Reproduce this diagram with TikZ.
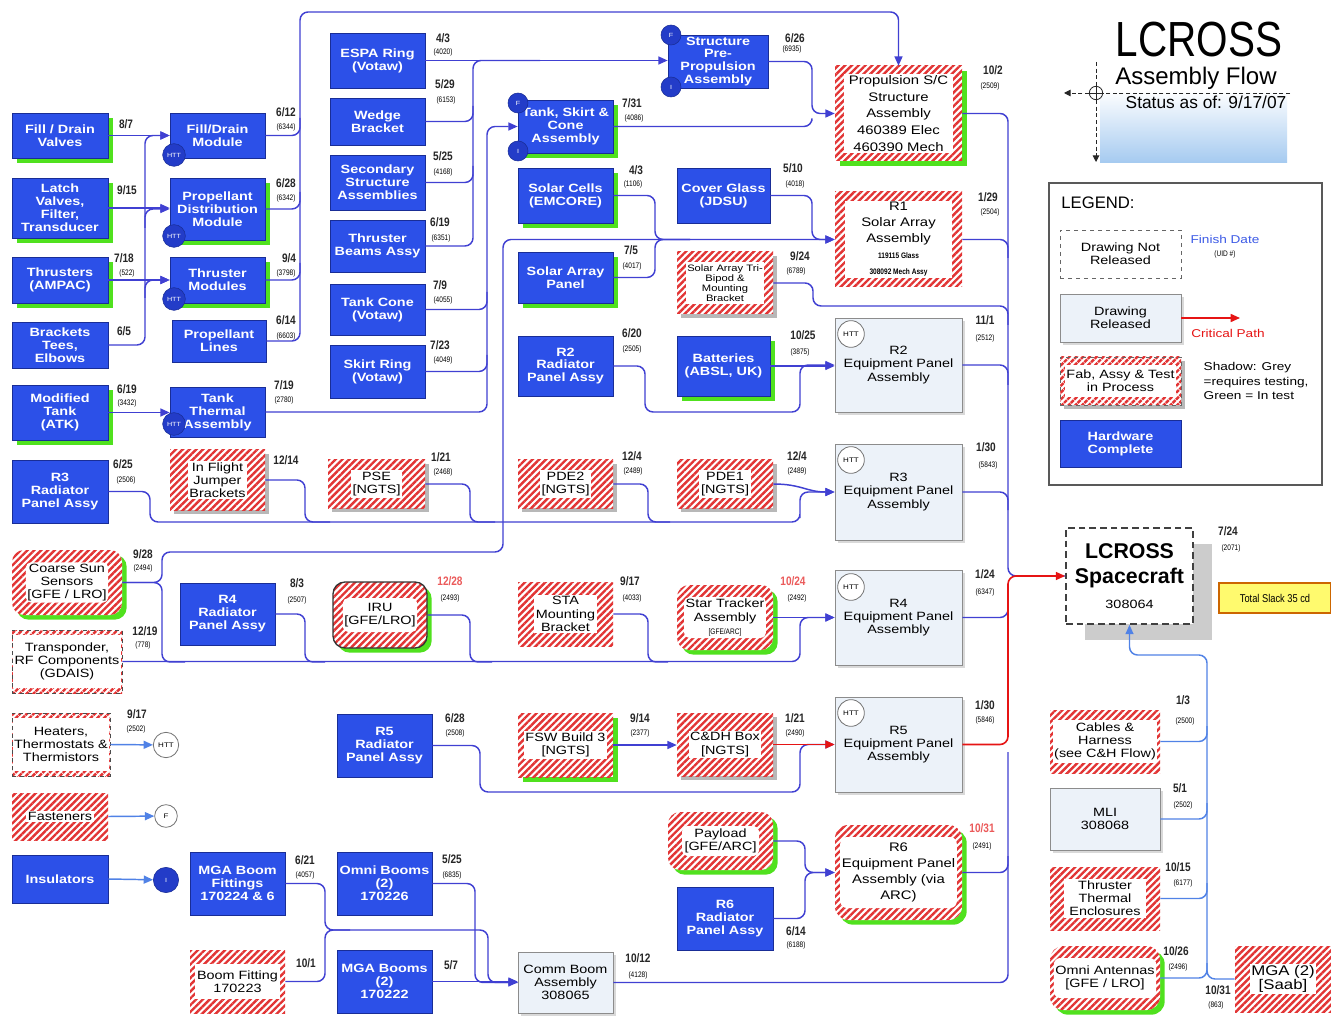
\documentclass[tikz,border=0pt]{standalone}
\usepackage{fontspec}
\setmainfont{Liberation Sans}
\newfontfamily\sx[FakeStretch=1.2]{Liberation Sans}
\newfontfamily\sxn[FakeStretch=0.82]{Liberation Sans}
\usetikzlibrary{arrows.meta,patterns.meta,shadows}
\definecolor{bfill}{RGB}{44,80,232}
\definecolor{bdraw}{RGB}{25,45,150}
\definecolor{lc}{RGB}{64,64,210}
\definecolor{lcl}{RGB}{80,130,230}
\definecolor{hred}{RGB}{226,52,52}
\definecolor{gshc}{RGB}{80,225,30}
\definecolor{lfill}{RGB}{236,242,249}
\definecolor{dred}{RGB}{235,90,90}
\definecolor{crit}{RGB}{230,20,20}
\definecolor{cdark}{RGB}{35,60,200}
\definecolor{tb}{RGB}{165,202,240}
\definecolor{yfill}{RGB}{255,250,110}
\definecolor{lgb}{RGB}{60,90,230}
\newcommand\ffb{\sx\bfseries\fontsize{9}{9.7}\selectfont}
\newcommand\ffr{\sx\fontsize{9}{9.9}\selectfont}
\newcommand\ffd{\sxn\bfseries\fontsize{9.2}{10}\selectfont}
\newcommand\ffu{\sxn\fontsize{6}{6.5}\selectfont}
\newcommand{\nbx}[8][]{%
 \pgfmathsetmacro\nbw{(#6-#4)*0.75}%
 \pgfmathsetmacro\nbh{(#7-#5)*0.75}%
 \node[#2,#1,minimum width=\nbw pt,minimum height=\nbh pt] (#3) at ({(#4+#6)/2},{(#5+#7)/2}) {#8};}
\newcommand{\hbx}[9]{%
 \pgfmathsetmacro\nbw{(#5-#3)*0.75}%
 \pgfmathsetmacro\nbh{(#6-#4)*0.75}%
 \pgfmathsetmacro\niw{max(#5-#3-2*#7,2)*0.75}%
 \pgfmathsetmacro\nih{max(#6-#4-2*#7,2)*0.75}%
 \node[#1,hatch,minimum width=\nbw pt,minimum height=\nbh pt] (#2) at ({(#3+#5)/2},{(#4+#6)/2}) {};%
 \node[hin,minimum width=\niw pt,minimum height=\nih pt,#9] (#2t) at (#2.center) {#8};}
\tikzset{
 blk/.style={fill=bfill,draw=bdraw,line width=0.5pt,text=white,font=\ffb,align=center,inner sep=1pt},
 lbox/.style={fill=lfill,draw=black!45,line width=0.6pt,font=\ffr,align=center,inner sep=1pt},
 hatch/.style={preaction={fill=white},pattern={Lines[angle=45,distance=3.6pt,line width=1.8pt]},pattern color=hred,inner sep=0pt},
 hin/.style={fill=white,font=\ffr,align=center,inner sep=1.2pt},
 gsh/.style={drop shadow={shadow xshift=3.5pt,shadow yshift=-3.5pt,fill=gshc,opacity=1}},
 ysh/.style={drop shadow={shadow xshift=3pt,shadow yshift=-3pt,fill=black!28,opacity=1}},
 lsh/.style={drop shadow={shadow xshift=2.5pt,shadow yshift=-2.5pt,fill=black!15,opacity=1}},
 cn/.style={draw=lc,line width=1.1pt,rounded corners=6pt},
 cnr/.style={draw=crit,line width=1.2pt,rounded corners=6pt},
 cnl/.style={draw=lcl,line width=1.1pt,rounded corners=6pt},
 ar/.style={-{Triangle[length=7pt,width=6pt]}},
 dt/.style={font=\ffd,inner sep=0pt,text=black!85},
 ud/.style={font=\ffu,inner sep=0pt},
 hcb/.style={circle,fill=cdark,draw=bdraw,text=white,font=\sx\fontsize{4.5}{5}\selectfont,inner sep=0pt,minimum size=17pt},
 hcw/.style={circle,fill=white,draw=black!55,line width=0.6pt,font=\sx\fontsize{5}{5}\selectfont,inner sep=0pt,minimum size=20pt},
 xd/.style={draw=black!85,densely dashed,line width=0.7pt},
}
\begin{document}
\begin{tikzpicture}[x=0.75pt,y=-0.75pt]
\useasboundingbox[fill=white] (0,0) rectangle (1331,1019);
% ---------- title ----------
\shade[top color=white,bottom color=tb] (1100,90) rectangle (1287,163);
\node[font=\sxn\fontsize{37}{37}\selectfont] (t1) at (1199,40) {LCROSS};
\node[font=\fontsize{18}{18}\selectfont] (t2) at (1196,78) {Assembly Flow};
\node[font=\fontsize{13}{13}\selectfont] (t3) at (1206,102) {Status as of: 9/17/07};
\node[circle,draw=black!85,minimum size=10pt,inner sep=0pt,line width=0.6pt] (xh) at (1096,93) {};
\draw[black!85,line width=0.5pt] (xh.north) -- (xh.south) (xh.east) -- (xh.west);
\coordinate (xv1) at (1096,62); \coordinate (xv2) at (1096,162);
\coordinate (xh1) at (1290,93); \coordinate (xh2) at (1064,93);
\draw[xd] (xv1) -- (xh.north);
\draw[xd,-{Triangle[length=5pt,width=5pt]}] (xh.south) -- (xv2);
\draw[xd] (xh1) -- (xh.east);
\draw[xd,-{Triangle[length=5pt,width=5pt]}] (xh.west) -- (xh2);
% ---------- legend ----------
\nbx{draw=black!65,line width=1.6pt}{leg}{1049}{183}{1322}{485}{}
\node[font=\fontsize{12.5}{13}\selectfont] (lgt) at (1098,203) {LEGEND:};
\nbx{lbox,fill=white,dashed,draw=black!60}{lg1}{1060}{230}{1181}{278}{Drawing Not\\Released}
\nbx[lsh]{lbox}{lg2}{1060}{294}{1181}{342}{Drawing\\Released}
\hbx{ysh,draw=black!60,dashed}{lg3}{1060}{357}{1181}{405}{8}{Fab, Assy \& Test\\in Process}{}
\nbx{blk}{lg4}{1060}{420}{1181}{467}{Hardware\\Complete}
\node[font=\sx\fontsize{8.5}{9}\selectfont,text=lgb] (fdl) at (1225,239) {Finish Date};
\node[ud] (udl) at (1225,254) {(UID \#)};
\node[font=\sx\fontsize{8.5}{9}\selectfont,text=crit] (cpl) at (1228,333) {Critical Path};
\node[font=\sx\fontsize{8.5}{10.8}\selectfont,align=left,anchor=west] (shl) at (1199,381) {Shadow: Grey\\=requires testing,\\Green = In test};
\coordinate (cpe) at (1240,318);
\draw[cnr,ar] (lg2.east) -- (cpe);
% ---------- blue boxes ----------
\nbx[gsh]{blk}{fdv}{12}{113}{108}{158}{Fill / Drain\\Valves}
\nbx[gsh]{blk}{lvf}{12}{178}{108}{238}{Latch\\Valves,\\Filter,\\Transducer}
\nbx[gsh]{blk}{thr}{12}{257}{108}{303}{Thrusters\\(AMPAC)}
\nbx{blk}{brk}{12}{322}{108}{368}{Brackets\\Tees,\\Elbows}
\nbx[gsh]{blk}{mtk}{12}{385}{108}{440}{Modified\\Tank\\(ATK)}
\nbx{blk}{r3r}{12}{460}{108}{523}{R3\\Radiator\\Panel Assy}
\nbx{blk}{ins}{12}{855}{108}{903}{Insulators}
\nbx{blk}{fdm}{170}{113}{265}{158}{Fill/Drain\\Module}
\nbx[gsh]{blk}{pdm}{170}{178}{265}{240}{Propellant\\Distribution\\Module}
\nbx[gsh]{blk}{thm}{170}{257}{265}{303}{Thruster\\Modules}
\nbx{blk}{pl}{172}{320}{266}{362}{Propellant\\Lines}
\nbx{blk}{tta}{170}{387}{265}{437}{Tank\\Thermal\\Assembly}
\nbx{blk}{r4r}{180}{583}{275}{645}{R4\\Radiator\\Panel Assy}
\nbx{blk}{mbf}{190}{852}{285}{915}{MGA Boom\\Fittings\\170224 \& 6}
\nbx{blk}{espa}{330}{33}{425}{88}{ESPA Ring\\(Votaw)}
\nbx{blk}{wb}{330}{98}{425}{145}{Wedge\\Bracket}
\nbx{blk}{ssa}{330}{155}{425}{210}{Secondary\\Structure\\Assemblies}
\nbx{blk}{tba}{330}{220}{425}{272}{Thruster\\Beams Assy}
\nbx{blk}{tc}{330}{284}{425}{335}{Tank Cone\\(Votaw)}
\nbx{blk}{sr}{330}{345}{425}{398}{Skirt Ring\\(Votaw)}
\nbx{blk}{r5r}{337}{714}{432}{777}{R5\\Radiator\\Panel Assy}
\nbx{blk}{omb}{337}{852}{432}{915}{Omni Booms\\(2)\\170226}
\nbx{blk}{mgb}{337}{950}{432}{1013}{MGA Booms\\(2)\\170222}
\nbx{blk}{sppa}{668}{35}{768}{88}{Structure\\Pre-\\Propulsion\\Assembly}
\nbx[gsh]{blk}{tsc}{518}{100}{613}{153}{Tank, Skirt \&\\Cone\\Assembly}
\nbx[gsh]{blk}{sc}{518}{168}{613}{223}{Solar Cells\\(EMCORE)}
\nbx[gsh]{blk}{sap}{518}{252}{613}{303}{Solar Array\\Panel}
\nbx{blk}{r2r}{518}{336}{613}{396}{R2\\Radiator\\Panel Assy}
\nbx{blk}{cg}{677}{168}{770}{223}{Cover Glass\\(JDSU)}
\nbx[gsh]{blk}{bat}{677}{336}{770}{396}{Batteries\\(ABSL, UK)}
\nbx{blk}{r6r}{677}{887}{773}{950}{R6\\Radiator\\Panel Assy}
% ---------- hatched boxes ----------
\hbx{gsh,rounded corners=9pt}{css}{12}{550}{122}{615}{14}{Coarse Sun\\Sensors\\{[GFE / LRO]}}{rounded corners=4pt}
\hbx{draw=black!70,dashed}{trp}{12}{630}{122}{693}{5}{Transponder,\\RF Components\\(GDAIS)}{}
\hbx{draw=black!70,dashed}{heat}{12}{713}{110}{776}{5}{Heaters,\\Thermostats \&\\Thermistors}{}
\hbx{}{fas}{12}{793}{108}{840}{40}{Fasteners}{}
\hbx{ysh}{ifj}{170}{450}{265}{510}{20}{In Flight\\Jumper\\Brackets}{}
\hbx{}{bft}{190}{950}{285}{1013}{14}{Boom Fitting\\170223}{}
\hbx{ysh}{pse}{328}{460}{425}{508}{40}{PSE\\{[NGTS]}}{}
\hbx{gsh,rounded corners=9pt,draw=black!80,line width=1pt}{iru}{333}{582}{427}{648}{16}{IRU\\{[GFE/LRO]}}{rounded corners=4pt}
\hbx{ysh}{pde2}{518}{460}{613}{508}{40}{PDE2\\{[NGTS]}}{}
\hbx{}{sta}{518}{582}{613}{646}{25}{STA\\Mounting\\Bracket}{}
\hbx{gsh}{fsw}{518}{713}{613}{777}{30}{FSW Build 3\\{[NGTS]}}{}
\hbx{ysh}{tbp}{677}{252}{773}{314}{10}{Solar Array Tri-\\Bipod \&\\Mounting\\Bracket}{font=\sx\fontsize{7}{7.6}\selectfont}
\hbx{ysh}{pde1}{677}{460}{773}{508}{40}{PDE1\\{[NGTS]}}{}
\hbx{gsh,rounded corners=9pt}{str}{677}{585}{773}{650}{12}{Star Tracker\\Assembly\\{\ffu[GFE/ARC]}}{rounded corners=4pt}
\hbx{ysh}{cdh}{677}{713}{773}{776}{30}{C\&DH Box\\{[NGTS]}}{}
\hbx{gsh,rounded corners=9pt}{pay}{668}{812}{773}{870}{14}{Payload\\{[GFE/ARC]}}{rounded corners=4pt}
\hbx{gsh}{psc}{835}{66}{962}{161}{9}{Propulsion S/C\\Structure\\Assembly\\460389 Elec\\460390 Mech}{font=\sx\fontsize{9.3}{12.6}\selectfont}
\hbx{}{r1}{835}{192}{962}{287}{10}{R1\\Solar Array\\Assembly\\{\ffu\bfseries 119115 Glass}\\{\ffu\bfseries 308092 Mech Assy}}{font=\sx\fontsize{9.3}{12}\selectfont}
\hbx{gsh,rounded corners=10pt}{r6e}{835}{825}{962}{920}{12}{R6\\Equipment Panel\\Assembly (via\\ARC)}{rounded corners=5pt,font=\sx\fontsize{9.3}{12}\selectfont}
\hbx{}{cab}{1050}{710}{1160}{773}{10}{Cables \&\\Harness\\(see C\&H Flow)}{}
\hbx{}{tte}{1050}{867}{1160}{930}{14}{Thruster\\Thermal\\Enclosures}{}
\hbx{gsh,rounded corners=10pt}{oma}{1050}{946}{1160}{1010}{12}{Omni Antennas\\{[GFE / LRO]}}{rounded corners=5pt}
\hbx{}{mga}{1235}{946}{1331}{1012}{18}{MGA (2)\\{[Saab]}}{font=\sx\fontsize{10.5}{11}\selectfont}
% ---------- light boxes ----------
\nbx[lsh]{lbox}{r2e}{835}{318}{962}{412}{R2\\Equipment Panel\\Assembly}
\nbx[lsh]{lbox}{r3e}{835}{444}{962}{540}{R3\\Equipment Panel\\Assembly}
\nbx[lsh]{lbox}{r4e}{835}{570}{962}{665}{R4\\Equipment Panel\\Assembly}
\nbx[lsh]{lbox}{r5e}{835}{697}{962}{792}{R5\\Equipment Panel\\Assembly}
\nbx[lsh]{lbox}{cba}{518}{952}{613}{1013}{Comm Boom\\Assembly\\308065}
\nbx[lsh]{lbox}{mli}{1050}{788}{1160}{850}{MLI\\308068}
\nbx[drop shadow={shadow xshift=14pt,shadow yshift=-12pt,fill=black!20,opacity=1}]{lbox,fill=white,draw=black!75,line width=1.3pt,dash pattern=on 5pt off 3pt,font=\bfseries\fontsize{16}{18.5}\selectfont}{lcs}{1066}{528}{1193}{624}{LCROSS\\Spacecraft\\{\mdseries\ffr 308064}}
\nbx{fill=yfill,draw=orange!80!black,line width=0.8pt,font=\sxn\fontsize{8.5}{9}\selectfont}{tsl}{1219}{583}{1331}{613}{Total Slack 35 cd}
% ---------- circles ----------
\node[hcb] (h1) at (174,155) {HTT};
\node[hcb] (h2) at (174,236) {HTT};
\node[hcb] (h3) at (174,299) {HTT};
\node[hcb] (h4) at (174,424) {HTT};
\node[hcb,minimum size=15pt] (f1) at (671,35) {F};
\node[hcb,minimum size=15pt] (i1) at (671,87) {I};
\node[hcb,minimum size=15pt] (f2) at (518,103) {F};
\node[hcb,minimum size=15pt] (i2) at (518,151) {I};
\node[hcw] (h5) at (851,334) {HTT};
\node[hcw] (h6) at (851,460) {HTT};
\node[hcw] (h7) at (851,587) {HTT};
\node[hcw] (h8) at (851,713) {HTT};
\node[hcw,minimum size=19pt] (hc) at (166,745) {HTT};
\node[hcw,minimum size=17pt] (fc) at (166,816) {F};
\node[hcb,minimum size=19pt] (ic) at (166,880) {I};
% ---------- connectors ----------
\draw[cn,ar] (fdv) -- (fdm);
\draw[cn,ar] (lvf.east) -- (lvf.east -| pdm.west);
\draw[cn,ar] (thr.east) -- (thr.east -| thm.west);
\draw[cn,ar] (brk.east) -| (145,160) |- (fdm.west);
\coordinate (jb1) at (145,228); \coordinate (jb2) at (145,298);
\draw[cn,ar] (jb1) |- (pdm.west);
\draw[cn,ar] (jb2) |- (thm.west);
\draw[cn,ar] (mtk.east) -- (mtk.east -| tta.west);
\draw[cn,ar] (pl.east) -| (300,12) -| (psc.north);
\draw[cn] (fdm.east) -| (300,118);
\draw[cn] (pdm.east) -| (300,192);
\draw[cn] (thm.east) -| (300,263);
\draw[cn,ar] (espa.east) -- (espa.east -| sppa.west);
\coordinate (je1) at (540,60.5);
\draw[cn] (tba.east) -| (473,100) |- (je1);
\draw[cn] (wb.east) -| (473,106);
\draw[cn] (ssa.east) -| (473,166);
\draw[cn,ar] (tta.east) -| (487,200) |- (tsc.west);
\draw[cn] (tc.east) -| (487,292);
\draw[cn] (sr.east) -| (487,355);
\draw[cn,ar] (sppa.east) -| (812,95) |- (psc.west);
\draw[cn] (tsc.east) -| (812,121);
\draw[cn,ar] (css.east) -| (162,552) -| (503,262) |- (r1.west);
\coordinate (jc1) at (185,662);
\draw[cn] (css.east) -| (162,662) -- (jc1);
\coordinate (jr1) at (690,239.5);
\draw[cn] (sc.east) -| (655,222) |- (jr1);
\draw[cn] (sap.east) -| (655,257) |- (jr1);
\draw[cn,ar] (cg.east) -| (812,222) |- (r1.west);
\draw[cn] (psc.east) -| (1008,545) |- (lcs.west);
\draw[cn] (r1.east) -| (1008,258);
\draw[cn] (tbp.east) -| (813,306) -| (1008,325);
\draw[cn] (r2e.east) -| (1008,385);
\draw[cn] (r3e.east) -| (1008,510);
\draw[cn] (r4e.east) -| (1008,598);
\draw[cn] (cba.east) -| (1008,752);
\draw[cn] (r6e.east) -| (1008,856);
\draw[cnr,ar] (r5e.east) -| (1008,600) |- (lcs.west);
\draw[cn,ar] (r2r.east) -| (645,412) -| (800,385) |- (r2e.west);
\draw[cn,ar] (bat.east) -- (bat.east -| r2e.west);
\draw[cn,ar] (r3r.east) -| (150,522) -| (800,510) |- (r3e.west);
\coordinate (jr3a) at (330,522); \coordinate (jr3b) at (495,522); \coordinate (jr3c) at (670,522);
\draw[cn] (ifj.east) -| (305,522) -- (jr3a);
\draw[cn] (pse.east) -| (470,522) -- (jr3b);
\draw[cn] (pde2.east) -| (648,522) -- (jr3c);
\draw[cn,ar] (pde1.east) .. controls +(28,0) and +(-28,0) .. (r3e.west);
\draw[cn,ar] (trp.east) -| (800,634) |- (r4e.west);
\coordinate (jr4a) at (325,662); \coordinate (jr4b) at (492,662); \coordinate (jr4c) at (668,662);
\draw[cn] (r4r.east) -| (305,662) -- (jr4a);
\draw[cn] (iru.east) -| (470,662) -- (jr4b);
\draw[cn] (sta.east) -| (648,662) -- (jr4c);
\draw[cn,ar] (str.east) -- (str.east -| r4e.west);
\draw[cn,ar] (r5r.east) -| (480,792) -| (800,762) |- (r5e.west);
\draw[cn,ar] (fsw.east) -- (fsw.east -| cdh.west);
\draw[cnr,ar] (cdh.east) -- (cdh.east -| r5e.west);
\draw[cn,ar] (pay.east) -| (805,857) |- (r6e.west);
\draw[cn,ar] (r6r.east) -| (805,888) |- (r6e.west);
\draw[cn,ar] (bft.east) -| (325,930) -| (488,966) |- (cba.west);
\coordinate (jb3) at (350,930);
\draw[cn] (mbf.east) -| (325,930) -- (jb3);
\draw[cn] (omb.east) -| (475,966) |- (cba.west);
\draw[cn,ar] (mgb.east) -- (mgb.east -| cba.west);
\draw[cnl,ar] (mga.west) -| (1207,655) -| (lcs.south);
\draw[cnl] (cab.east) -| (1207,726);
\draw[cnl] (mli.east) -| (1207,803);
\draw[cnl] (tte.east) -| (1207,883);
\draw[cnl] (oma.east) -| (1207,963);
\draw[cnl,ar] (heat.east) -- (hc);
\draw[cnl,ar] (fas.east) -- (fc);
\draw[cnl,ar] (ins.east) -- (ic);
% ---------- dates ----------
\node[dt] (a1) at (126,124) {8/7};
\node[dt] (a2) at (127,190) {9/15};
\node[dt] (a3) at (124,258) {7/18}; \node[ud] (b3) at (127,273) {(522)};
\node[dt] (a4) at (124,331) {6/5};
\node[dt] (a5) at (127,389) {6/19}; \node[ud] (b5) at (127,403) {(3432)};
\node[dt] (a6) at (123,464) {6/25}; \node[ud] (b6) at (126,480) {(2506)};
\node[dt] (a7) at (143,554) {9/28}; \node[ud] (b7) at (143,568) {(2494)};
\node[dt] (a8) at (145,631) {12/19}; \node[ud] (b8) at (143,645) {(778)};
\node[dt] (a9) at (137,714) {9/17}; \node[ud] (b9) at (136,729) {(2502)};
\node[dt] (a10) at (286,112) {6/12}; \node[ud] (b10) at (286,127) {(6344)};
\node[dt] (a11) at (286,183) {6/28}; \node[ud] (b11) at (286,198) {(6342)};
\node[dt] (a12) at (289,258) {9/4}; \node[ud] (b12) at (286,273) {(3798)};
\node[dt] (a13) at (286,320) {6/14}; \node[ud] (b13) at (286,336) {(6603)};
\node[dt] (a14) at (284,385) {7/19}; \node[ud] (b14) at (284,400) {(2780)};
\node[dt] (a15) at (286,460) {12/14};
\node[dt] (a16) at (297,583) {8/3}; \node[ud] (b16) at (297,600) {(2507)};
\node[dt] (a17) at (305,860) {6/21}; \node[ud] (b17) at (305,875) {(4057)};
\node[dt] (a18) at (306,963) {10/1};
\node[dt] (a19) at (443,38) {4/3}; \node[ud] (b19) at (443,52) {(4020)};
\node[dt] (a20) at (445,84) {5/29}; \node[ud] (b20) at (446,100) {(6153)};
\node[dt] (a21) at (443,156) {5/25}; \node[ud] (b21) at (443,172) {(4168)};
\node[dt] (a22) at (440,222) {6/19}; \node[ud] (b22) at (441,238) {(6351)};
\node[dt] (a23) at (440,285) {7/9}; \node[ud] (b23) at (443,300) {(4055)};
\node[dt] (a24) at (440,345) {7/23}; \node[ud] (b24) at (443,360) {(4049)};
\node[dt] (a25) at (441,457) {1/21}; \node[ud] (b25) at (443,472) {(2468)};
\node[dt,text=dred] (a26) at (450,581) {12/28}; \node[ud] (b26) at (450,598) {(2493)};
\node[dt] (a27) at (455,718) {6/28}; \node[ud] (b27) at (455,733) {(2508)};
\node[dt] (a28) at (452,859) {5/25}; \node[ud] (b28) at (452,875) {(6835)};
\node[dt] (a29) at (451,965) {5/7};
\node[dt] (a30) at (795,38) {6/26}; \node[ud] (b30) at (792,49) {(6935)};
\node[dt] (a31) at (632,103) {7/31}; \node[ud] (b31) at (634,118) {(4086)};
\node[dt] (a32) at (636,170) {4/3}; \node[ud] (b32) at (633,184) {(1106)};
\node[dt] (a33) at (631,250) {7/5}; \node[ud] (b33) at (632,266) {(4017)};
\node[dt] (a34) at (632,333) {6/20}; \node[ud] (b34) at (632,349) {(2505)};
\node[dt] (a35) at (632,456) {12/4}; \node[ud] (b35) at (633,471) {(2489)};
\node[dt] (a36) at (630,581) {9/17}; \node[ud] (b36) at (632,598) {(4033)};
\node[dt] (a37) at (640,718) {9/14}; \node[ud] (b37) at (640,733) {(2377)};
\node[dt] (a38) at (638,958) {10/12}; \node[ud] (b38) at (638,975) {(4128)};
\node[dt] (a39) at (793,168) {5/10}; \node[ud] (b39) at (795,184) {(4018)};
\node[dt] (a40) at (800,256) {9/24}; \node[ud] (b40) at (796,271) {(6789)};
\node[dt] (a41) at (803,335) {10/25}; \node[ud] (b41) at (800,352) {(3875)};
\node[dt] (a42) at (797,456) {12/4}; \node[ud] (b42) at (797,471) {(2489)};
\node[dt,text=dred] (a43) at (793,581) {10/24}; \node[ud] (b43) at (797,598) {(2492)};
\node[dt] (a44) at (795,718) {1/21}; \node[ud] (b44) at (795,733) {(2490)};
\node[dt] (a45) at (796,931) {6/14}; \node[ud] (b45) at (796,945) {(6188)};
\node[dt] (a46) at (993,70) {10/2}; \node[ud] (b46) at (990,86) {(2509)};
\node[dt] (a47) at (988,197) {1/29}; \node[ud] (b47) at (990,212) {(2504)};
\node[dt] (a48) at (985,320) {11/1}; \node[ud] (b48) at (985,338) {(2512)};
\node[dt] (a49) at (986,447) {1/30}; \node[ud] (b49) at (988,465) {(5843)};
\node[dt] (a50) at (985,574) {1/24}; \node[ud] (b50) at (985,592) {(6347)};
\node[dt] (a51) at (985,705) {1/30}; \node[ud] (b51) at (985,720) {(5846)};
\node[dt,text=dred] (a52) at (982,828) {10/31}; \node[ud] (b52) at (982,846) {(2491)};
\node[dt] (a53) at (1228,531) {7/24}; \node[ud] (b53) at (1231,548) {(2071)};
\node[dt] (a54) at (1183,700) {1/3}; \node[ud] (b54) at (1185,721) {(2500)};
\node[dt] (a55) at (1180,788) {5/1}; \node[ud] (b55) at (1183,805) {(2502)};
\node[dt] (a56) at (1178,867) {10/15}; \node[ud] (b56) at (1183,883) {(6177)};
\node[dt] (a57) at (1176,951) {10/26}; \node[ud] (b57) at (1178,967) {(2496)};
\node[dt] (a58) at (1218,990) {10/31}; \node[ud] (b58) at (1216,1005) {(863)};
\end{tikzpicture}
\end{document}
